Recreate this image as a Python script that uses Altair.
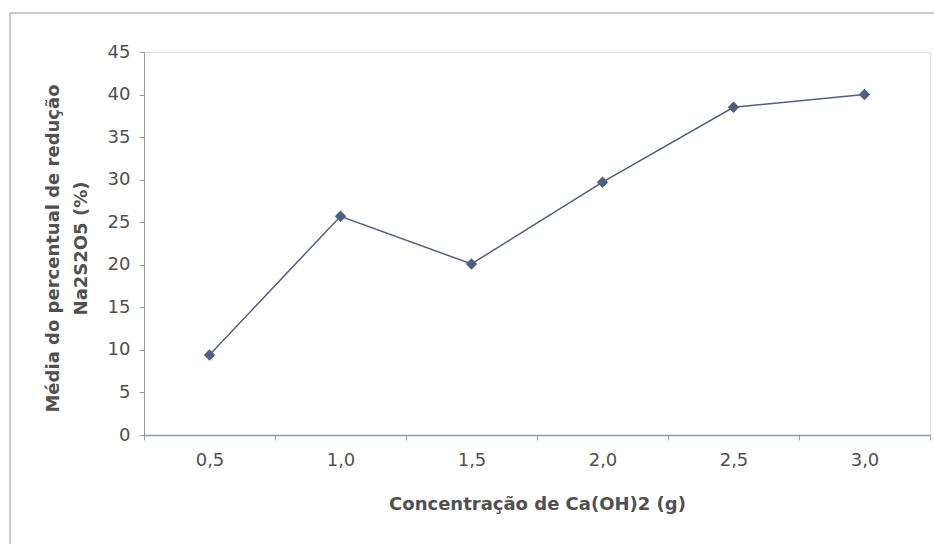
import altair as alt
import pandas as pd

concentracao = ["0,5", "1,0", "1,5", "2,0", "2,5", "3,0"]
reducao = [9.4, 25.7, 20.1, 29.7, 38.5, 40.0]

df = pd.DataFrame({"conc": concentracao, "red": reducao})

TEXT = "#505050"
LINE = "#4f5f80"
FONT = "DejaVu Sans"

base = alt.Chart(df)

x_enc = alt.X(
    "conc:N",
    sort=None,
    scale=alt.Scale(type="band", paddingInner=0, paddingOuter=0),
    axis=alt.Axis(
        title="Concentração de Ca(OH)2 (g)",
        labelAngle=0,
        tickBand="extent",
        labelFontSize=18,
        labelColor=TEXT,
        labelFont=FONT,
        labelPadding=11,
        titleFontSize=18,
        titleFont=FONT,
        titleFontWeight="bold",
        titleColor=TEXT,
        titlePadding=26,
        domainColor="#8a97b8",
        domainWidth=1.5,
        tickColor="#999999",
        tickSize=5,
        grid=False,
    ),
)

y_enc = alt.Y(
    "red:Q",
    scale=alt.Scale(domain=[0, 45], nice=False),
    axis=alt.Axis(
        title=["Média do percentual de redução", "Na2S2O5 (%)"],
        values=list(range(0, 50, 5)),
        labelFontSize=18,
        labelColor=TEXT,
        labelFont=FONT,
        labelPadding=9,
        titleFontSize=18,
        titleFont=FONT,
        titleFontWeight="bold",
        titleColor=TEXT,
        titleLineHeight=28,
        titleX=-82,
        titleY=196,
        titleAlign="center",
        titleBaseline="bottom",
        domainColor="#999999",
        tickColor="#999999",
        tickSize=5,
        grid=False,
    ),
)

frame = alt.Chart(pd.DataFrame({"a": [0]})).mark_rect(
    fill=None, stroke="#bbbbbb", strokeWidth=1.5
).encode(
    x=alt.value(-134), x2=alt.value(900), y=alt.value(-39), y2=alt.value(600)
)

line = base.mark_line(color=LINE, strokeWidth=1.5).encode(x=x_enc, y=y_enc)
pts = base.mark_point(shape="diamond", filled=True, size=130, color=LINE, opacity=1).encode(
    x=alt.X("conc:N", sort=None), y="red:Q"
)

chart = alt.layer(frame, line, pts).properties(
    width=786,
    height=383,
    autosize=alt.AutoSizeParams(type="none"),
    padding={"left": 144, "top": 52, "right": 4, "bottom": 109},
).configure_view(stroke=None).configure(background="white")

chart.save("out.html", embed_options={"renderer": "svg", "actions": False})
